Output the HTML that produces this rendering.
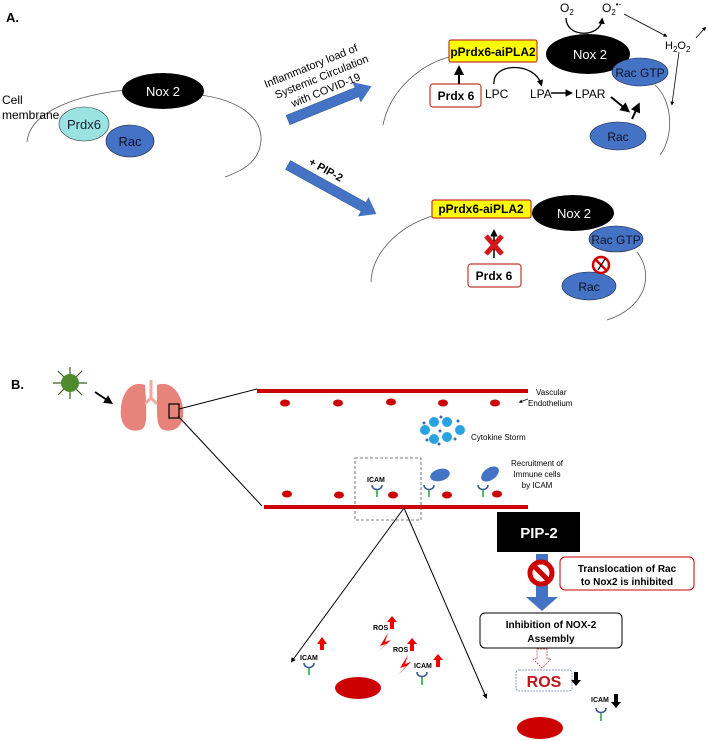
<!DOCTYPE html>
<html><head><meta charset="utf-8"><style>
html,body{margin:0;padding:0;background:#fff;}
svg{display:block;font-family:"Liberation Sans",Arial,sans-serif;}
</style></head><body>
<svg width="708" height="741" viewBox="0 0 708 741" xmlns="http://www.w3.org/2000/svg">
<defs>
<marker id="ahb" markerWidth="6" markerHeight="6" refX="3" refY="2.5" orient="auto"><path d="M0,0 L5,2.5 L0,5 z" fill="#000"/></marker>
</defs>
<!-- Part A -->
<text x="6" y="22" font-size="13" font-weight="bold">A.</text>
<path d="M27,142 C30,110 80,95 125,90 M200,95 C240,100 262,118 261,140 C260,160 245,170 225,177" fill="none" stroke="#555" stroke-width="0.8"/>
<ellipse cx="163" cy="91" rx="41" ry="18" fill="#000"/>
<text x="163" y="96" font-size="13" fill="#fff" text-anchor="middle">Nox 2</text>
<ellipse cx="84" cy="124" rx="25" ry="17" fill="#9be3e3" stroke="#333" stroke-width="0.6"/>
<text x="84" y="129" font-size="13" text-anchor="middle" fill="#123">Prdx6</text>
<ellipse cx="130" cy="141" rx="24" ry="16" fill="#4472c4" stroke="#223" stroke-width="0.6"/>
<text x="130" y="146" font-size="13" text-anchor="middle" fill="#112">Rac</text>
<text x="2" y="104" font-size="12">Cell</text>
<text x="2" y="119" font-size="12">membrane</text>
<g transform="translate(288,120) rotate(-22)">
<rect x="0" y="-5" width="76" height="10" fill="#4472c4" stroke="#2f528f" stroke-width="0.5"/>
<path d="M74,-11 L90,0 L74,11 z" fill="#4472c4"/>
</g>
<g transform="translate(266,88) rotate(-22)" font-size="11">
<text x="0" y="0">Inflammatory load of</text>
<text x="6" y="14">Systemic Circulation</text>
<text x="18" y="28">with COVID-19</text>
</g>
<g transform="translate(288,165) rotate(29)">
<rect x="0" y="-5" width="88" height="10" fill="#4472c4" stroke="#2f528f" stroke-width="0.5"/>
<path d="M86,-11 L101,0 L86,11 z" fill="#4472c4"/>
</g>
<text transform="translate(308,164) rotate(29)" font-size="11" font-weight="bold">+ PIP-2</text>
<path d="M383,125 C390,90 420,65 449,57 M655,85 C672,100 675,135 660,155" fill="none" stroke="#555" stroke-width="0.8"/>
<ellipse cx="588" cy="54" rx="42" ry="20" fill="#000"/>
<text x="590" y="59" font-size="13" fill="#fff" text-anchor="middle">Nox 2</text>
<rect x="449" y="40" width="88" height="22" rx="2" fill="#ffff00" stroke="#c0392b" stroke-width="1.2"/>
<text x="493" y="56" font-size="12" font-weight="bold" text-anchor="middle">pPrdx6-aiPLA2</text>
<ellipse cx="640" cy="72" rx="28" ry="14" fill="#4472c4" stroke="#223" stroke-width="0.6"/>
<text x="640" y="77" font-size="12" text-anchor="middle" fill="#112">Rac GTP</text>
<rect x="430" y="84" width="51" height="23" rx="3" fill="#fff" stroke="#c0392b" stroke-width="1.2"/>
<text x="456" y="100" font-size="12" font-weight="bold" text-anchor="middle">Prdx 6</text>
<line x1="459" y1="84" x2="459" y2="69" stroke="#000" stroke-width="2" marker-end="url(#ahb)"/>
<path d="M494,84 C492,62 535,62 541,84" fill="none" stroke="#000" stroke-width="1.3" marker-end="url(#ahb)"/>
<text x="485" y="98" font-size="12">LPC</text>
<text x="530" y="98" font-size="12">LPA</text>
<line x1="551" y1="93" x2="570" y2="93" stroke="#000" stroke-width="1.5" marker-end="url(#ahb)"/>
<text x="575" y="98" font-size="12">LPAR</text>
<line x1="611" y1="97" x2="627" y2="110" stroke="#000" stroke-width="2" marker-end="url(#ahb)"/>
<ellipse cx="618" cy="136" rx="28" ry="14" fill="#4472c4" stroke="#223" stroke-width="0.6"/>
<text x="618" y="141" font-size="12" text-anchor="middle" fill="#112">Rac</text>
<line x1="632" y1="119" x2="638" y2="106" stroke="#000" stroke-width="2" marker-end="url(#ahb)"/>
<text x="560" y="12" font-size="12">O<tspan font-size="8" dy="3">2</tspan></text>
<text x="602" y="12" font-size="12">O<tspan font-size="8" dy="3">2</tspan><tspan font-size="8" dy="-8">•-</tspan></text>
<path d="M566,18 C566,38 600,38 602,20" fill="none" stroke="#000" stroke-width="1.3" marker-end="url(#ahb)"/>
<line x1="624" y1="14" x2="666" y2="36" stroke="#000" stroke-width="0.8" marker-end="url(#ahb)"/>
<text x="665" y="49" font-size="11">H<tspan font-size="8" dy="3">2</tspan><tspan dy="-3">O</tspan><tspan font-size="8" dy="3">2</tspan></text>
<line x1="696" y1="38" x2="705" y2="28" stroke="#000" stroke-width="0.8" marker-end="url(#ahb)"/>
<line x1="679" y1="52" x2="672" y2="104" stroke="#000" stroke-width="0.8" marker-end="url(#ahb)"/>
<path d="M432,216 C395,228 372,255 371,282 M637,252 C655,275 645,308 607,320" fill="none" stroke="#555" stroke-width="0.8"/>
<ellipse cx="573" cy="213" rx="41" ry="18" fill="#000"/>
<text x="574" y="218" font-size="13" fill="#fff" text-anchor="middle">Nox 2</text>
<rect x="432" y="200" width="99" height="18" rx="2" fill="#ffff00" stroke="#c0392b" stroke-width="1.2"/>
<text x="481" y="213" font-size="12" font-weight="bold" text-anchor="middle">pPrdx6-aiPLA2</text>
<ellipse cx="616" cy="239" rx="27" ry="13" fill="#4472c4" stroke="#223" stroke-width="0.6"/>
<text x="616" y="244" font-size="12" text-anchor="middle" fill="#112">Rac GTP</text>
<line x1="494" y1="258" x2="494" y2="232" stroke="#000" stroke-width="1.5" marker-end="url(#ahb)"/>
<path d="M486,236 L502,254 M502,236 L486,254" stroke="#d0171a" stroke-width="5"/>
<rect x="468" y="264" width="53" height="23" rx="3" fill="#fff" stroke="#c0392b" stroke-width="1.2"/>
<text x="494" y="280" font-size="12" font-weight="bold" text-anchor="middle">Prdx 6</text>
<ellipse cx="589" cy="286" rx="27" ry="14" fill="#4472c4" stroke="#223" stroke-width="0.6"/>
<text x="589" y="291" font-size="12" text-anchor="middle" fill="#112">Rac</text>
<circle cx="601" cy="265" r="8" fill="#fff" stroke="#c00" stroke-width="2.5"/>
<line x1="596" y1="260" x2="606" y2="270" stroke="#c00" stroke-width="2.5"/>
<line x1="598" y1="270" x2="605" y2="259" stroke="#000" stroke-width="1.2"/>
<!-- Part B -->
<text x="11" y="389" font-size="13" font-weight="bold">B.</text>
<g stroke="#3b5e2a" stroke-width="1.2">
<line x1="53" y1="383" x2="87" y2="383"/><line x1="70" y1="367" x2="70" y2="399"/>
<line x1="58" y1="371" x2="82" y2="395"/><line x1="82" y1="371" x2="58" y2="395"/>
</g>
<circle cx="70" cy="383" r="9" fill="#4f8a2e"/>
<line x1="95" y1="392" x2="110" y2="402" stroke="#000" stroke-width="1.8" marker-end="url(#ahb)"/>
<path d="M145,385 C132,380 122,392 121,408 C119,425 128,433 140,430 C148,428 146,415 146,400 Z" fill="#e8837c"/>
<path d="M157,385 C170,380 181,392 183,408 C185,425 176,433 164,430 C156,428 157,415 157,400 Z" fill="#e8837c"/>
<path d="M151,380 L151,398 M151,398 L145,404 M151,398 L157,404" stroke="#f0a9a0" stroke-width="3" fill="none"/>
<rect x="169" y="404" width="10" height="14" fill="none" stroke="#000" stroke-width="1.2"/>
<line x1="179" y1="409" x2="257" y2="389" stroke="#000" stroke-width="1"/>
<line x1="178" y1="416" x2="262" y2="506" stroke="#000" stroke-width="1"/>
<rect x="257" y="389" width="271" height="4" fill="#c00"/>
<g fill="#c00">
<ellipse cx="285" cy="403" rx="5" ry="3.5"/><ellipse cx="338" cy="403" rx="5" ry="3.5"/><ellipse cx="391" cy="402" rx="5" ry="3.5"/><ellipse cx="443" cy="403" rx="5" ry="3.5"/><ellipse cx="495" cy="403" rx="5" ry="3.5"/>
<ellipse cx="287" cy="494" rx="5" ry="3.5"/><ellipse cx="339" cy="495" rx="5" ry="3.5"/><ellipse cx="393" cy="495" rx="5" ry="3.5"/><ellipse cx="447" cy="495" rx="5" ry="3.5"/><ellipse cx="497" cy="494" rx="5" ry="3.5"/>
</g>
<text x="536" y="395" font-size="8">Vascular</text>
<text x="528" y="406" font-size="8">Endothelium</text>
<line x1="528" y1="399" x2="520" y2="402" stroke="#000" stroke-width="0.7" marker-end="url(#ahb)"/>
<g fill="#29a3e0">
<circle cx="425" cy="430" r="5"/><circle cx="434" cy="422" r="5"/><circle cx="447" cy="422" r="5"/><circle cx="460" cy="430" r="5"/><circle cx="447" cy="437" r="5"/><circle cx="434" cy="439" r="5"/>
</g>
<g fill="#3a6ab0">
<circle cx="424" cy="423" r="1.5"/><circle cx="441" cy="417" r="1.5"/><circle cx="458" cy="421" r="1.5"/><circle cx="439" cy="444" r="1.5"/><circle cx="455" cy="439" r="1.5"/><circle cx="440" cy="431" r="1.5"/><circle cx="427" cy="440" r="1.5"/>
</g>
<text x="471" y="440" font-size="8">Cytokine Storm</text>
<rect x="264" y="505" width="264" height="4" fill="#c00"/>
<rect x="355" y="458" width="66" height="62" fill="none" stroke="#555" stroke-width="0.8" stroke-dasharray="3,2"/>
<text x="367" y="482" font-size="7" font-weight="bold">ICAM</text>
<g stroke-width="1.6" fill="none">
<path d="M372,485 C372,491 382,491 382,485" stroke="#3a5a9a"/><line x1="377" y1="490" x2="377" y2="497" stroke="#2aa84a"/>
<path d="M424,485 C424,491 434,491 434,485" stroke="#3a5a9a"/><line x1="429" y1="490" x2="429" y2="497" stroke="#2aa84a"/>
<path d="M478,485 C478,491 488,491 488,485" stroke="#3a5a9a"/><line x1="483" y1="490" x2="483" y2="497" stroke="#2aa84a"/>
</g>
<ellipse cx="440" cy="475" rx="10" ry="6" transform="rotate(-15 440 475)" fill="#4472c4"/>
<ellipse cx="490" cy="474" rx="10" ry="6" transform="rotate(-35 490 474)" fill="#4472c4"/>
<text x="537" y="466" font-size="8" text-anchor="middle">Recruitment of</text>
<text x="537" y="477" font-size="8" text-anchor="middle">Immune cells</text>
<text x="537" y="488" font-size="8" text-anchor="middle">by ICAM</text>
<line x1="404" y1="508" x2="292" y2="661" stroke="#000" stroke-width="1" marker-end="url(#ahb)"/>
<line x1="404" y1="508" x2="486" y2="697" stroke="#000" stroke-width="1" marker-end="url(#ahb)"/>
<rect x="497" y="512" width="83" height="40" fill="#000"/>
<text x="539" y="538" font-size="15" font-weight="bold" fill="#fff" text-anchor="middle">PIP-2</text>
<rect x="536" y="554" width="12" height="44" fill="#4472c4"/>
<path d="M526,597 L558,597 L542,611 z" fill="#4472c4"/>
<circle cx="541" cy="573" r="11" fill="#fff" stroke="#c00" stroke-width="5"/>
<line x1="533" y1="565" x2="549" y2="581" stroke="#c00" stroke-width="5"/>
<rect x="560" y="557" width="134" height="33" rx="5" fill="#fff" stroke="#c00" stroke-width="1"/>
<text x="627" y="572" font-size="10" font-weight="bold" text-anchor="middle">Translocation of Rac</text>
<text x="627" y="585" font-size="10" font-weight="bold" text-anchor="middle">to Nox2 is inhibited</text>
<rect x="480" y="613" width="142" height="35" rx="5" fill="#fff" stroke="#000" stroke-width="1"/>
<text x="551" y="628" font-size="10" font-weight="bold" text-anchor="middle">Inhibition of NOX-2</text>
<text x="551" y="642" font-size="10" font-weight="bold" text-anchor="middle">Assembly</text>
<path d="M537,649 L547,649 L547,659 L551,659 L542,668 L533,659 L537,659 Z" fill="#fff" stroke="#c0392b" stroke-width="0.7" stroke-dasharray="2,1"/>
<rect x="516" y="670" width="56" height="21" rx="3" fill="#fff" stroke="#6b7fb0" stroke-width="0.8" stroke-dasharray="2,1"/>
<text x="544" y="687" font-size="16" font-weight="bold" fill="#c0161b" text-anchor="middle">ROS</text>
<path d="M574,672 L578,672 L578,680 L581,680 L576,686 L571,680 L574,680Z" fill="#000"/>
<text x="591" y="702" font-size="7" font-weight="bold">ICAM</text>
<path d="M614,694 L618,694 L618,702 L621,702 L616,708 L611,702 L614,702Z" fill="#000"/>
<path d="M596,708 C596,714 606,714 606,708" stroke="#3a5a9a" stroke-width="1.6" fill="none"/><line x1="601" y1="713" x2="601" y2="721" stroke="#2aa84a" stroke-width="1.6"/>
<ellipse cx="540" cy="728" rx="23" ry="11" fill="#c00"/>
<ellipse cx="358" cy="688" rx="23" ry="11" fill="#c00"/>
<text x="300" y="660" font-size="7" font-weight="bold">ICAM</text>
<path d="M320,650 L324,650 L324,644 L327,644 L322,637 L317,644 L320,644Z" fill="#e00"/>
<path d="M304,663 C304,669 314,669 314,663" stroke="#3a5a9a" stroke-width="1.6" fill="none"/><line x1="309" y1="668" x2="309" y2="675" stroke="#2aa84a" stroke-width="1.6"/>
<text x="373" y="630" font-size="7" font-weight="bold">ROS</text>
<path d="M390,629 L394,629 L394,622 L397,622 L392,616 L387,622 L390,622Z" fill="#e00"/>
<path d="M388,633 L380,646 L386,644 L378,652 L391,640 L385,642 Z" fill="#e00"/>
<text x="393" y="652" font-size="7" font-weight="bold">ROS</text>
<path d="M410,651 L414,651 L414,644 L417,644 L412,638 L407,644 L410,644Z" fill="#e00"/>
<path d="M408,655 L400,668 L406,666 L398,675 L411,662 L405,664 Z" fill="#e00"/>
<text x="414" y="668" font-size="7" font-weight="bold">ICAM</text>
<path d="M436,667 L440,667 L440,660 L443,660 L438,654 L433,660 L436,660Z" fill="#e00"/>
<path d="M417,672 C417,678 427,678 427,672" stroke="#3a5a9a" stroke-width="1.6" fill="none"/><line x1="422" y1="677" x2="422" y2="685" stroke="#2aa84a" stroke-width="1.6"/>
</svg>
</body></html>
